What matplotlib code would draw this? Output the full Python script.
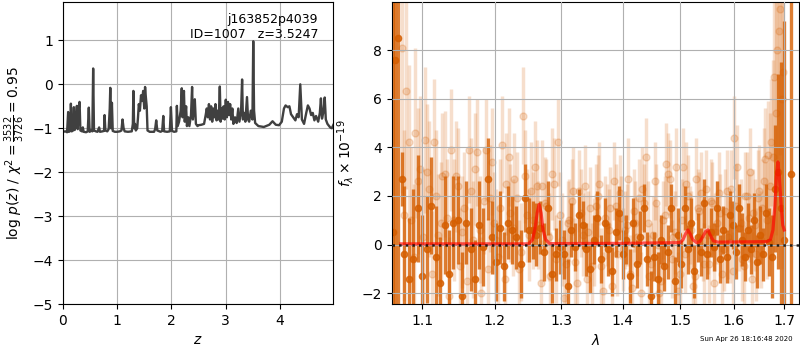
import numpy as np
import matplotlib
matplotlib.use('Agg')
import matplotlib.pyplot as plt
from matplotlib.ticker import NullLocator

# p(z) curve
pz_z = [0.00, 0.05, 0.08, 0.10, 0.115, 0.14, 0.15, 0.165, 0.19, 0.205, 0.22, 0.245, 0.26, 0.275,
        0.295, 0.31, 0.325, 0.355, 0.37, 0.385, 0.43, 0.46, 0.48, 0.495, 0.53, 0.545, 0.56, 0.575,
        0.61, 0.64, 0.67, 0.685, 0.73, 0.76, 0.77, 0.785, 0.82, 0.845, 0.865, 0.875, 0.89, 0.905,
        0.92, 0.96, 1.00, 1.05, 1.08, 1.10, 1.12, 1.14, 1.20, 1.27, 1.29, 1.30, 1.315, 1.33, 1.345,
        1.37, 1.385, 1.40, 1.42, 1.44, 1.46, 1.48, 1.50, 1.515, 1.53, 1.545, 1.56, 1.60, 1.68, 1.70,
        1.72, 1.74, 1.80, 1.83, 1.85, 1.865, 1.92, 1.97, 1.99, 2.01, 2.05, 2.09, 2.10, 2.115, 2.14,
        2.17, 2.19, 2.205, 2.23, 2.245, 2.27, 2.285, 2.31, 2.33, 2.36, 2.38, 2.395, 2.43, 2.45, 2.48,
        2.50, 2.55, 2.60, 2.63, 2.65, 2.67, 2.69, 2.71, 2.73, 2.75, 2.77, 2.79, 2.81, 2.83, 2.85,
        2.87, 2.89, 2.905, 2.92, 2.94, 2.96, 2.98, 3.00, 3.02, 3.04, 3.06, 3.08, 3.10, 3.12, 3.14,
        3.17, 3.20, 3.23, 3.25, 3.28, 3.30, 3.315, 3.34, 3.36, 3.39, 3.41, 3.43, 3.46, 3.49, 3.505,
        3.52, 3.54, 3.60, 3.70, 3.80, 3.86, 3.92, 3.98, 4.03, 4.07, 4.10, 4.14, 4.17, 4.20, 4.24,
        4.28, 4.31, 4.34, 4.37, 4.40, 4.44, 4.48, 4.51, 4.54, 4.57, 4.60, 4.63, 4.66, 4.70, 4.73,
        4.75, 4.77, 4.80, 4.82, 4.84, 4.87, 4.92, 4.95, 4.98]
pz_logp = [-1.08, -1.07, -1.09, -0.63, -1.08, -1.06, -0.44, -1.07, -1.05, -0.52, -1.04, -0.80, -0.49, -1.02,
           -0.55, -0.40, -1.05, -1.07, -0.98, -1.08, -1.09, -1.07, -0.53, -1.08, -1.05, -1.07, 0.36, -1.05,
           -1.07, -1.08, -0.98, -1.08, -1.07, -1.06, -0.70, -1.05, -1.07, -1.02, -0.55, -0.08, -1.00, -0.42,
           -1.06, -1.08, -1.08, -1.07, -1.05, -0.80, -1.00, -1.07, -1.08, -1.07, -0.90, -0.15, -1.00, -0.90, -1.05,
           -1.00, -0.75, -0.45, -0.60, -0.25, -0.38, -0.15, -0.55, -0.06, -0.30, -0.50, -1.05, -1.08, -1.08, -1.02,
           -0.82, -1.05, -1.08, -1.06, -0.72, -1.07, -1.08, -1.07, -0.52, -1.06, -1.08, -1.07, -0.49, -0.95, -0.85,
           -0.60, -0.09, -0.75, -0.15, -0.85, -0.50, -0.95, -0.75, -0.95, -0.70, -0.06, -0.80, -0.34, -0.90, -0.95,
           -0.93, -0.92, -0.90, -0.70, -0.55, -0.75, -0.45, -0.80, -0.50, -0.85, -0.55, -0.75, -0.45, -0.82, -0.60,
           -0.80, -0.05, -0.85, -0.55, -0.78, -0.50, -0.80, -0.35, -0.75, -0.40, -0.70, -0.45, -0.80, -0.55, -0.90,
           -0.75, -0.88, -0.55, -0.85, -0.65, 0.11, -0.80, -0.65, -0.85, -0.29, -0.80, -0.85, -0.60, -0.80, 0.98,
           -0.60, -0.88, -0.95, -0.97, -0.92, -0.84, -0.92, -0.93, -0.85, -0.55, -0.48, -0.52, -0.50, -0.68, -0.75,
           -0.82, -0.68, -0.75, 0.00, -0.80, -0.90, -0.65, -0.48, -0.55, -0.70, -0.65, -0.82, -0.72, -0.85, -0.65,
           -0.32, -0.78, -0.60, -0.30, -0.80, -0.90, -0.98, -1.00, -0.92]

# optimal spectrum (dark orange points)
spec_lam = [1.0625, 1.065, 1.069, 1.073,
            1.076, 1.082, 1.088, 1.094, 1.100, 1.106, 1.112, 1.118, 1.124, 1.130,
            1.136, 1.142, 1.148, 1.154, 1.160, 1.166, 1.172, 1.178, 1.184, 1.190,
            1.196, 1.202, 1.208, 1.214, 1.220, 1.226, 1.232, 1.238, 1.244, 1.250,
            1.256, 1.262, 1.268, 1.274, 1.280, 1.286, 1.292, 1.298, 1.304, 1.310,
            1.316, 1.322, 1.328, 1.334, 1.340, 1.346, 1.352, 1.358, 1.364, 1.370,
            1.376, 1.382, 1.388, 1.394, 1.400, 1.406, 1.412, 1.418, 1.424, 1.430,
            1.436, 1.442, 1.448, 1.454, 1.460, 1.466, 1.472, 1.478, 1.484, 1.490,
            1.496, 1.502, 1.508, 1.514, 1.520, 1.526, 1.532, 1.538, 1.544, 1.550,
            1.556, 1.562, 1.568, 1.574, 1.580, 1.586, 1.592, 1.598, 1.604, 1.610,
            1.616, 1.622, 1.628, 1.634, 1.640, 1.646, 1.652, 1.658, 1.664, 1.670,
            1.676, 1.682, 1.688, 1.694, 1.700, 1.714]
spec_flux = [0.5, 7.6, 8.5, 2.7,
             -0.4, -1.4, -0.6, 1.5, -1.3, -0.2, 1.6, -0.5, -1.6, 0.8,
             -1.2, 0.9, 1.0, -2.1, 0.9, -0.2, -1.4, 0.8, -0.1, 2.7,
             0.3, -0.7, 0.7, -0.9, 0.9, 0.6, 0.3, -0.8, 1.9, 0.6,
             0.6, 0.4, 0.7, -0.3, 1.5, -1.2, -0.4, -0.1, -0.4, -1.7,
             0.6, -0.1, 1.2, 0.8, -0.2, -1.0, 0.2, 1.1, -0.6, 0.9,
             -0.2, -1.1, 0.5, 1.3, -0.4, 0.2, -1.3, 0.9, -0.8, 0.3,
             1.5, -0.6, -2.1, -0.5, -1.4, 0.2, -0.9, -0.3, 1.5, -1.5,
             0.4, -0.8, 1.5, -0.2, 0.9, -1.1, 0.3, -0.3, 1.7, -0.4,
             0.5, -0.1, 1.5, -0.6, 0.6, -0.5, 1.2, 0.8, -0.3, 1.5,
             0.2, -0.5, 0.6, -0.2, 1.0, -0.7, 0.4, -0.4, 1.3, 0.1,
             -0.5, 2.3, 3.0, 1.5, 0.2, 2.9]
spec_err = [30, 30, 30, 1.1,
            2.8, 2.5, 2.9, 2.2, 2.5, 2.2, 2.0, 2.1, 1.9, 2.0,
            1.8, 1.9, 1.8, 1.8, 1.7, 1.7, 1.6, 1.8, 1.6, 1.7,
            1.5, 1.6, 1.5, 1.4, 1.5, 1.4, 1.3, 1.4, 1.4, 1.3,
            1.2, 1.3, 1.1, 1.2, 1.1, 1.2, 1.1, 1.1, 1.0, 1.1,
            1.1, 1.0, 1.1, 1.0, 1.1, 1.0, 1.0, 1.1, 1.0, 1.0,
            1.1, 1.0, 1.0, 1.1, 1.0, 1.0, 1.1, 1.0, 1.0, 1.1,
            1.0, 1.1, 1.0, 1.0, 1.1, 1.0, 1.0, 1.1, 1.0, 1.0,
            1.1, 1.0, 0.9, 1.0, 1.0, 1.1, 1.0, 1.0, 1.0, 1.0,
            1.0, 1.0, 1.1, 1.0, 1.0, 1.1, 1.0, 1.0, 1.1, 1.0,
            1.1, 1.0, 1.1, 1.0, 1.1, 1.1, 1.2, 1.1, 1.2, 1.4,
            1.7, 2.6, 4.0, 6.0, 9.0, 30]

# second extraction (light points), two interleaved sets
alt_lam = [1.074,
           1.079, 1.085, 1.091, 1.097, 1.103, 1.109, 1.115, 1.121, 1.127, 1.133,
           1.139, 1.145, 1.151, 1.157, 1.163, 1.169, 1.175, 1.181, 1.187, 1.193,
           1.199, 1.205, 1.211, 1.217, 1.223, 1.229, 1.235, 1.241, 1.247, 1.253,
           1.259, 1.265, 1.271, 1.277, 1.283, 1.289, 1.295, 1.301, 1.307, 1.313,
           1.319, 1.325, 1.331, 1.337, 1.343, 1.349, 1.355, 1.361, 1.367, 1.373,
           1.379, 1.385, 1.391, 1.397, 1.403, 1.409, 1.415, 1.421, 1.427, 1.433,
           1.439, 1.445, 1.451, 1.457, 1.463, 1.469, 1.475, 1.481, 1.487, 1.493,
           1.499, 1.505, 1.511, 1.517, 1.523, 1.529, 1.535, 1.541, 1.547, 1.553,
           1.559, 1.565, 1.571, 1.577, 1.583, 1.589, 1.595, 1.601, 1.607, 1.613,
           1.619, 1.625, 1.631, 1.637, 1.643, 1.649, 1.655, 1.661, 1.667, 1.673,
           1.679, 1.685, 1.691, 1.697]
alt_flux = [8.1,
            6.3, 1.0, 4.6, 3.1, 4.3, 2.3, 4.2, 0.4, 2.8, 1.1,
            3.9, 2.8, -0.9, 1.5, 3.9, 0.2, 3.8, -2.0, 3.9, 1.9,
            0.9, -0.5, 4.1, 2.5, 1.3, 2.7, -1.0, 5.3, 1.2, 2.2,
            3.2, 0.8, 2.4, 1.6, -1.3, 2.5, 4.2, 0.2, -0.8, 1.0,
            2.2, -1.6, 1.3, 2.4, 0.5, -0.9, 1.6, 2.5, -1.9, 0.8,
            1.5, 2.6, -0.4, 1.1, 0.6, 2.7, -1.8, 0.9, 1.9, 2.3,
            3.6, -1.3, 0.4, 1.7, -2.0, 1.0, 3.3, 2.7, 0.3, 3.2,
            -1.2, 3.2, 2.5, 0.8, -1.7, 2.7, 1.4, 0.2, 2.3, -0.8,
            1.7, 0.5, 2.1, -1.2, 1.4, 0.3, 2.3, 4.4, 3.2, 0.9,
            -0.9, 2.0, 3.0, 1.3, -0.4, 2.2, 1.5, 3.5, 3.7, 4.2,
            6.9, 8.0, 9.7, 7.1]
alt_err = [6.0,
           4.0, 3.0, 3.5, 3.0, 3.0, 2.8, 2.6, 2.5, 2.6, 2.4,
           2.5, 2.3, 2.4, 2.3, 2.2, 2.4, 2.2, 2.3, 2.1, 2.2,
           2.1, 2.1, 2.0, 2.1, 2.0, 1.9, 2.0, 2.0, 1.9, 2.0,
           1.9, 1.8, 1.9, 1.9, 1.8, 1.9, 1.8, 1.9, 1.8, 1.7,
           1.8, 1.7, 1.8, 1.7, 1.7, 1.8, 1.7, 1.7, 1.6, 1.7,
           1.7, 1.6, 1.7, 1.7, 1.6, 1.7, 1.6, 1.7, 1.6, 1.7,
           1.6, 1.7, 1.6, 1.6, 1.7, 1.6, 1.7, 1.6, 1.7, 1.6,
           1.7, 1.6, 1.7, 1.6, 1.6, 1.7, 1.6, 1.7, 1.6, 1.6,
           1.7, 1.6, 1.7, 1.6, 1.7, 1.7, 1.6, 1.7, 1.7, 1.8,
           1.7, 1.8, 1.8, 1.8, 1.9, 1.9, 2.0, 2.1, 2.2, 2.6,
           3.5, 4.5, 6.0, 6.0]

alt2_lam = [1.0765, 1.0825, 1.0885, 1.0945, 1.1005, 1.1065, 1.1125, 1.1185, 1.1245, 1.1305,
            1.1365, 1.1425, 1.1485, 1.1545, 1.1605, 1.1665, 1.1725, 1.1785, 1.1845, 1.1905,
            1.1965, 1.2025, 1.2085, 1.2145, 1.2205, 1.2265, 1.2325, 1.2385, 1.2445, 1.2505,
            1.2565, 1.2625, 1.2685, 1.2745, 1.2805, 1.2865, 1.2925, 1.2985, 1.3045, 1.3105,
            1.3165, 1.3225, 1.3285, 1.3345, 1.3405, 1.3465, 1.3525, 1.3585, 1.3645, 1.3705,
            1.3765, 1.3825, 1.3885, 1.3945, 1.4005, 1.4065, 1.4125, 1.4185, 1.4245, 1.4305,
            1.4365, 1.4425, 1.4485, 1.4545, 1.4605, 1.4665, 1.4725, 1.4785, 1.4845, 1.4905,
            1.4965, 1.5025, 1.5085, 1.5145, 1.5205, 1.5265, 1.5325, 1.5385, 1.5445, 1.5505,
            1.5565, 1.5625, 1.5685, 1.5745, 1.5805, 1.5865, 1.5925, 1.5985, 1.6045, 1.6105,
            1.6165, 1.6225, 1.6285, 1.6345, 1.6405, 1.6465, 1.6525, 1.6585, 1.6645, 1.6705,
            1.6765, 1.6825, 1.6885, 1.6945]
alt2_flux = [1.2, 4.2, -0.5, 2.6, 0.3, 3.0, -1.2, 2.0, 0.9, 2.9,
             -2.1, 1.0, 2.4, 0.5, -1.5, 2.2, 3.1, 0.6, 1.8, -1.0,
             3.4, 0.2, 1.5, -1.4, 3.6, 0.7, 1.9, -0.3, 2.8, 0.4,
             1.0, 2.4, -1.6, 1.7, 0.3, 2.9, -0.6, 1.2, -2.2, 0.9,
             1.8, -0.7, 2.2, 0.4, -1.4, 1.5, 0.1, 2.0, -0.9, 1.1,
             0.6, -1.7, 1.6, 2.1, -0.2, 0.8, -1.2, 1.4, 0.3, -2.0,
             1.7, 0.9, -0.8, 2.6, 0.0, -1.5, 1.2, 2.9, -0.6, 0.5,
             -1.9, 1.0, -0.4, 2.0, 0.6, -1.3, 1.5, 2.1, -0.8, 0.4,
             1.8, -1.6, 0.9, 1.3, -0.2, 2.2, 0.1, -1.1, 1.6, 0.7,
             -0.6, 2.0, 1.1, -1.4, 0.8, 1.9, 0.2, 2.6, 1.0, 2.4,
             3.6, 5.4, 8.8, 6.0]
alt2_err = [3.5, 3.2, 3.0, 3.0, 2.8, 2.8, 2.6, 2.7, 2.5, 2.6,
            2.4, 2.5, 2.4, 2.3, 2.4, 2.2, 2.3, 2.2, 2.2, 2.1,
            2.2, 2.1, 2.0, 2.1, 2.0, 2.0, 1.9, 2.0, 1.9, 1.9,
            2.0, 1.9, 1.8, 1.9, 1.8, 1.9, 1.8, 1.8, 1.8, 1.7,
            1.7, 1.8, 1.7, 1.7, 1.6, 1.7, 1.8, 1.7, 1.6, 1.7,
            1.7, 1.6, 1.7, 1.6, 1.7, 1.7, 1.6, 1.7, 1.6, 1.7,
            1.6, 1.7, 1.7, 1.6, 1.6, 1.7, 1.6, 1.7, 1.6, 1.7,
            1.6, 1.7, 1.6, 1.7, 1.6, 1.7, 1.6, 1.7, 1.7, 1.6,
            1.7, 1.6, 1.7, 1.6, 1.7, 1.7, 1.7, 1.6, 1.7, 1.8,
            1.7, 1.8, 1.8, 1.9, 1.9, 2.0, 2.0, 2.2, 2.4, 3.0,
            4.0, 5.0, 6.0, 7.0]

# best-fit line model
model_lam = [1.072, 1.250, 1.256, 1.260, 1.263, 1.266, 1.269, 1.272, 1.276, 1.282, 1.400, 1.500,
             1.505, 1.510, 1.514, 1.518, 1.523, 1.530, 1.536, 1.542, 1.547, 1.551, 1.555,
             1.561, 1.570, 1.665, 1.672, 1.677, 1.681, 1.684, 1.687, 1.690, 1.694, 1.697, 1.700]
model_flux = [0.03, 0.03, 0.2, 0.7, 1.3, 1.65, 1.3, 0.6, 0.2, 0.04, 0.05, 0.08,
              0.2, 0.45, 0.6, 0.45, 0.2, 0.08, 0.12, 0.35, 0.55, 0.6, 0.4,
              0.15, 0.1, 0.12, 0.2, 0.6, 1.6, 2.8, 3.4, 2.8, 1.5, 0.8, 0.6]

obj_text = 'j163852p4039\nID=1007   z=3.5247'
stamp = 'Sun Apr 26 18:16:48 2020'
g141 = '#d55e00'

fig = plt.figure(figsize=(8, 3.5), dpi=100)
ax1 = fig.add_axes([0.0784, 0.131, 0.3377, 0.863])
ax2 = fig.add_axes([0.4896, 0.131, 0.5095, 0.863])

# left: log p(z)
ax1.plot(pz_z, pz_logp, color='#404040', lw=1.7)
ax1.set_xlim(0, 4.97)
ax1.set_ylim(-5, 1.87)
ax1.set_xticks([0, 1, 2, 3, 4])
ax1.set_yticks([-5, -4, -3, -2, -1, 0, 1])
ax1.grid(True)
ax1.set_xlabel('$z$')
ax1.set_ylabel(r'$\log\,p(z)$ / $\chi^2=\frac{3532}{3726}=0.95$')
ax1.text(0.945, 0.965, obj_text, ha='right', va='top', multialignment='right',
         fontsize=9, transform=ax1.transAxes)

# right: spectrum
for lam, flux, err in [(alt_lam, alt_flux, alt_err), (alt2_lam, alt2_flux, alt2_err)]:
    ax2.errorbar(lam, flux, yerr=err, color=g141, alpha=0.2, marker='o',
                 markersize=5, linestyle='None', elinewidth=2.5, zorder=1)
ax2.errorbar(spec_lam, spec_flux, yerr=spec_err, color=g141, alpha=0.8, marker='o',
             markersize=4.5, linestyle='None', elinewidth=2.4, zorder=2)
ax2.plot(model_lam, model_flux, color='r', alpha=0.65, lw=2.3, zorder=3)
ax2.axhline(0, color='k', linestyle=':', lw=1.8, alpha=0.8, zorder=4)
ax2.set_xscale('log')
ax2.set_xlim(1.0603, 1.731)
ax2.set_ylim(-2.45, 9.97)
ax2.set_xticks([1.1, 1.2, 1.3, 1.4, 1.5, 1.6, 1.7])
ax2.set_xticklabels(['1.1', '1.2', '1.3', '1.4', '1.5', '1.6', '1.7'])
ax2.xaxis.set_minor_locator(NullLocator())
ax2.set_yticks([-2, 0, 2, 4, 6, 8])
ax2.grid(True)
ax2.set_axisbelow(False)
ax2.set_xlabel(r'$\lambda$')
ax2.set_ylabel(r'$f_\lambda\times10^{-19}$')

fig.text(0.991, 0.022, stamp, ha='right', va='bottom', fontsize=5)

fig.savefig('out.png', dpi=100)
